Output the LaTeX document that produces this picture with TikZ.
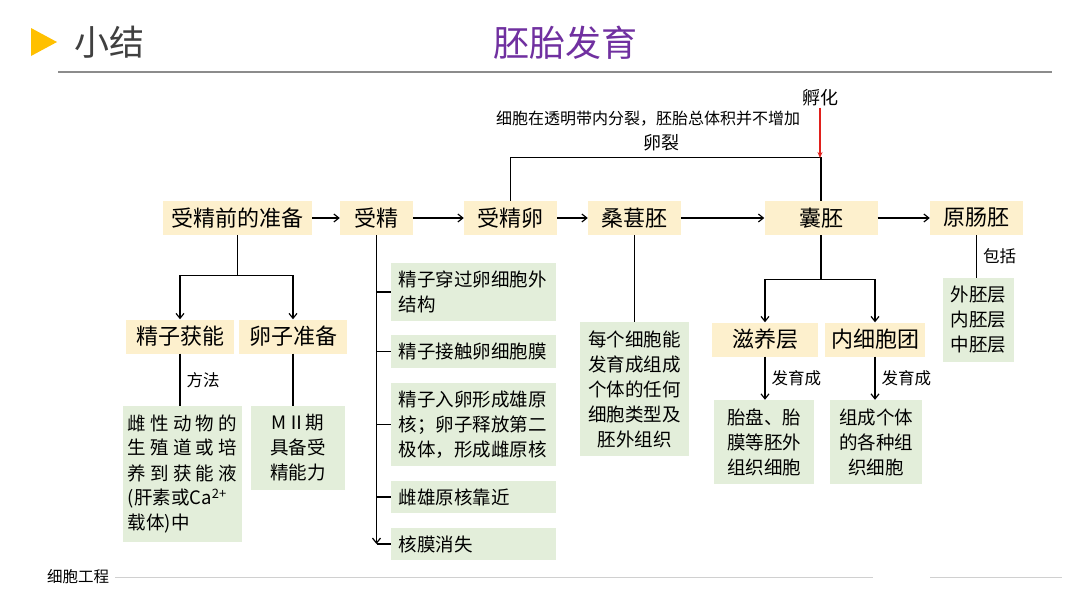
\documentclass[tikz,border=0pt]{standalone}
\usepackage{fontspec}
\setmainfont{Noto Sans CJK SC}
\usetikzlibrary{arrows.meta,positioning}
\definecolor{boxyellow}{HTML}{FDF0CD}
\definecolor{boxgreen}{HTML}{E3EEDA}
\definecolor{titlepurple}{HTML}{7030A0}
\definecolor{titlegray}{HTML}{404040}
\definecolor{markyellow}{HTML}{FFC000}
\definecolor{headgray}{HTML}{8C8C8C}
\definecolor{footgray}{HTML}{D0D0D0}
\definecolor{arrowred}{HTML}{E0201C}

\begin{document}
\begin{tikzpicture}[x=1pt,y=-1pt,
  stagebox/.style={fill=boxyellow,minimum height=34pt,inner sep=0pt,font=\fontsize{22}{26}\selectfont},
  notebox/.style={fill=boxgreen,inner sep=0pt,align=center,font=\fontsize{18.5}{25}\selectfont},
  fstep/.style={notebox,align=left,text width=150pt,inner xsep=7.5pt},
  lbl/.style={font=\fontsize{16.5}{20}\selectfont,inner sep=2pt},
  conn/.style={line width=1.2pt},
  arr/.style={conn,-{Straight Barb[length=5pt,width=8pt]}}]
\useasboundingbox (0,0) rectangle (1080,608);
\fill[white] (0,0) rectangle (1080,608);
% header
\fill[markyellow] (31,28) -- (31,56) -- (57,42) -- cycle;
\node[font=\fontsize{35}{40}\selectfont,text=titlegray,anchor=west,inner sep=0pt] (sectitle) at (74,42) {小结};
\node[font=\fontsize{36}{40}\selectfont,text=titlepurple] (title) at (565,43) {胚胎发育};
\draw[line width=1.2pt,headgray] (58,72) -- (1052,72);
% main row
\node[stagebox,minimum width=149pt] (prep) at (237.5,218) {受精前的准备};
\node[stagebox,minimum width=73pt] (fert) at (376.5,218) {受精};
\node[stagebox,minimum width=93pt] (zyg) at (510.5,218) {受精卵};
\node[stagebox,minimum width=93pt] (mor) at (634.5,218) {桑葚胚};
\node[stagebox,minimum width=113pt] (blast) at (821,218) {囊胚};
\node[stagebox,minimum width=93pt] (gast) at (976.5,218) {原肠胚};
\draw[arr] (prep) -- (fert);
\draw[arr] (fert) -- (zyg);
\draw[arr] (zyg) -- (mor);
\draw[arr] (mor) -- (blast);
\draw[arr] (blast) -- (gast);
% cleavage loop
\node[font=\fontsize{18}{20}\selectfont,inner sep=1pt] (hatch) at (820,98) {孵化};
\node[font=\fontsize{16}{20}\selectfont] (cleavenote) at (648,119) {细胞在透明带内分裂，胚胎总体积并不增加};
\node[font=\fontsize{18}{20}\selectfont] (cleave) at (661,143) {卵裂};
\coordinate (hatchend) at (820,158);
\draw[conn] (zyg.north) -- ++(0,-43) -| (blast.north);
\draw[line width=1.2pt,draw=arrowred,-{Stealth[length=6pt,width=5pt]}] (hatch.south) -- (hatchend);
% preparation
\node[stagebox,minimum width=108pt] (cap) at (180,336.5) {精子获能};
\node[stagebox,minimum width=108pt] (eggprep) at (293,336.5) {卵子准备};
\draw[conn] (prep.south) -- ++(0,40) coordinate (prepfork);
\draw[arr] (prepfork) -| (cap.north);
\draw[arr] (prepfork) -| (eggprep.north);
\node[notebox,align=left,minimum width=119pt,minimum height=136pt] (capm) at (182.5,474) {雌 性 动 物 的\\生 殖 道 或 培\\养 到 获 能 液\\(肝素或Ca\textsuperscript{2+}\\载体)中};
\node[notebox,minimum width=94pt,minimum height=84pt] (mii) at (298,448) {MⅡ期\\具备受\\精能力};
\draw[conn] (cap.south) -- node[lbl,right=4pt]{方法} (cap.south |- capm.north);
\draw[conn] (eggprep.south) -- (eggprep.south |- mii.north);
% fertilization steps
\node[fstep,minimum height=58pt] (f1) at (473.5,292) {精子穿过卵细胞外\\结构};
\node[fstep,minimum height=33pt] (f2) at (473.5,351.5) {精子接触卵细胞膜};
\node[fstep,minimum height=83pt] (f3) at (473.5,424.5) {精子入卵形成雄原\\核；卵子释放第二\\极体，形成雌原核};
\node[fstep,minimum height=32pt] (f4) at (473.5,497) {雌雄原核靠近};
\node[fstep,minimum height=32pt] (f5) at (473.5,544) {核膜消失};
\draw[arr] (fert.south) -- (fert.south |- f5.west);
\foreach \s in {f1,f2,f3,f4,f5}
  \draw[conn] (fert.south |- \s.west) -- (\s.west);
% morula
\node[notebox,minimum width=109pt,minimum height=134pt] (morc) at (634.5,389) {每个细胞能\\发育成组成\\个体的任何\\细胞类型及\\胚外组织};
\draw[conn] (mor.south) -- (mor.south |- morc.north);
% blastula
\node[stagebox,minimum width=106pt] (troph) at (765,339.5) {滋养层};
\node[stagebox,minimum width=100pt] (icm) at (875,339.5) {内细胞团};
\draw[conn] (blast.south) -- ++(0,44) coordinate (blastfork);
\draw[arr] (blastfork) -| (troph.north);
\draw[arr] (blastfork) -| (icm.north);
\node[notebox,minimum width=100pt,minimum height=84pt] (trophc) at (764,442) {胎盘、胎\\膜等胚外\\组织细胞};
\node[notebox,minimum width=92pt,minimum height=84pt] (icmc) at (876,442) {组成个体\\的各种组\\织细胞};
\draw[arr] (troph.south) -- node[lbl,right=4pt]{发育成} (troph.south |- trophc.north);
\draw[arr] (icm.south) -- node[lbl,right=4pt]{发育成} (icm.south |- icmc.north);
% gastrula
\node[notebox,minimum width=71pt,minimum height=84pt] (gastc) at (978.5,320) {外胚层\\内胚层\\中胚层};
\draw[conn] (gast.south) -- node[lbl,right=4pt]{包括} (gast.south |- gastc.north);
% footer
\node[font=\fontsize{15.5}{18}\selectfont,anchor=west,inner sep=0pt] (foot) at (47,577) {细胞工程};
\draw[footgray,line width=1pt] (115,577) -- (873,577);
\draw[footgray,line width=1pt] (930,577) -- (1062,577);
\end{tikzpicture}
\end{document}
